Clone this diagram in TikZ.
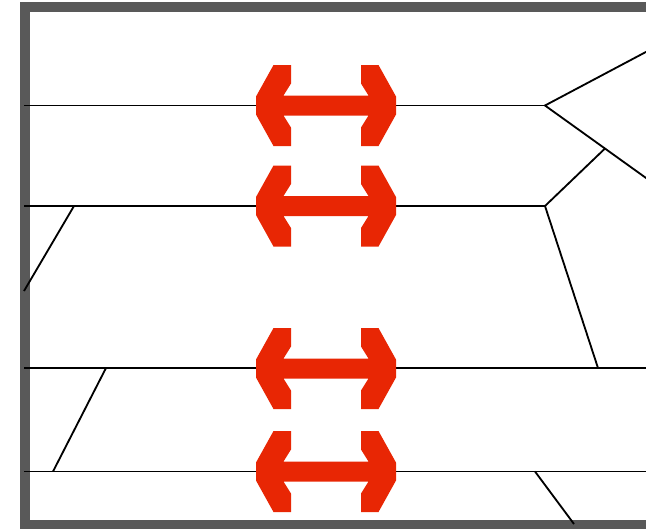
\documentclass[tikz,border=0pt]{standalone}
\usepackage{tikz}
\usetikzlibrary{calc}
\definecolor{arrowred}{RGB}{232,38,4}
\tikzset{
  hline/.style     = {line width=0.9pt, line cap=butt},
  slant line/.style = {line width=1.3pt},
  frame line/.style = {line width=7.1pt, draw=black!65},
}
\begin{document}
\begin{tikzpicture}[x=0.025cm,y=-0.025cm]
\def\dblarrow(#1) at (#2);{
  \fill[arrowred, shift={(#2)}]
    (-70,-9) -- (-52.5,-40.5) -- (-35,-40.5) -- (-35,-22) -- (-42.5,-10)
    -- (42.5,-10) -- (35,-22) -- (35,-40.5) -- (52.5,-40.5) -- (70,-9)
    -- (70,9) -- (52.5,40.5) -- (35,40.5) -- (35,22) -- (42.5,10)
    -- (-42.5,10) -- (-35,22) -- (-35,40.5) -- (-52.5,40.5) -- (-70,9) -- cycle;
  \path (#2) coordinate (#1); }

\useasboundingbox (0,0) rectangle (646,528);
\clip (0,0) rectangle (646,528);

% frame
\draw[frame line] (25,7) rectangle (700,524.5);

%---------------------------------------------
\coordinate (l1_w) at (24,105.5);  \coordinate (l1_e) at (545,105.5);
\coordinate (l2_w) at (24,206);    \coordinate (l2_e) at (545,206);
\coordinate (l3_w) at (24,368);    \coordinate (l3_e) at (660,368);
\coordinate (l4_w) at (24,471.5);  \coordinate (l4_e) at (660,471.5);

\draw[hline] (l1_w) -- (l1_e);
\draw[hline] (l2_w) -- (l2_e);
\draw[hline] (l3_w) -- (l3_e);
\draw[hline] (l4_w) -- (l4_e);

% right fork
\coordinate (fork)   at (605,148.5);
\coordinate (up_e)   at (660,44.5);
\coordinate (down_e) at (660,188);
\coordinate (l3_k)   at (598,368);
\draw[slant line] (up_e) -- (l1_e) -- (down_e);
\draw[slant line] (fork) -- (l2_e) -- (l3_k);

% slanted edges
\coordinate (s1_t) at (74,206);   \coordinate (s1_b) at (24,291);
\coordinate (s2_t) at (106,368);  \coordinate (s2_b) at (53,471.5);
\coordinate (s3_t) at (535,471.5);  \coordinate (s3_b) at (574,524);
\draw[slant line] (s1_t) -- (s1_b);
\draw[slant line] (s2_t) -- (s2_b);
\draw[slant line] (s3_t) -- (s3_b);

%---------------------------------------------
\dblarrow (a1) at (326,105.5);
\dblarrow (a2) at (326,206);
\dblarrow (a3) at (326,368.5);
\dblarrow (a4) at (326,471.5);

\end{tikzpicture}
\end{document}
